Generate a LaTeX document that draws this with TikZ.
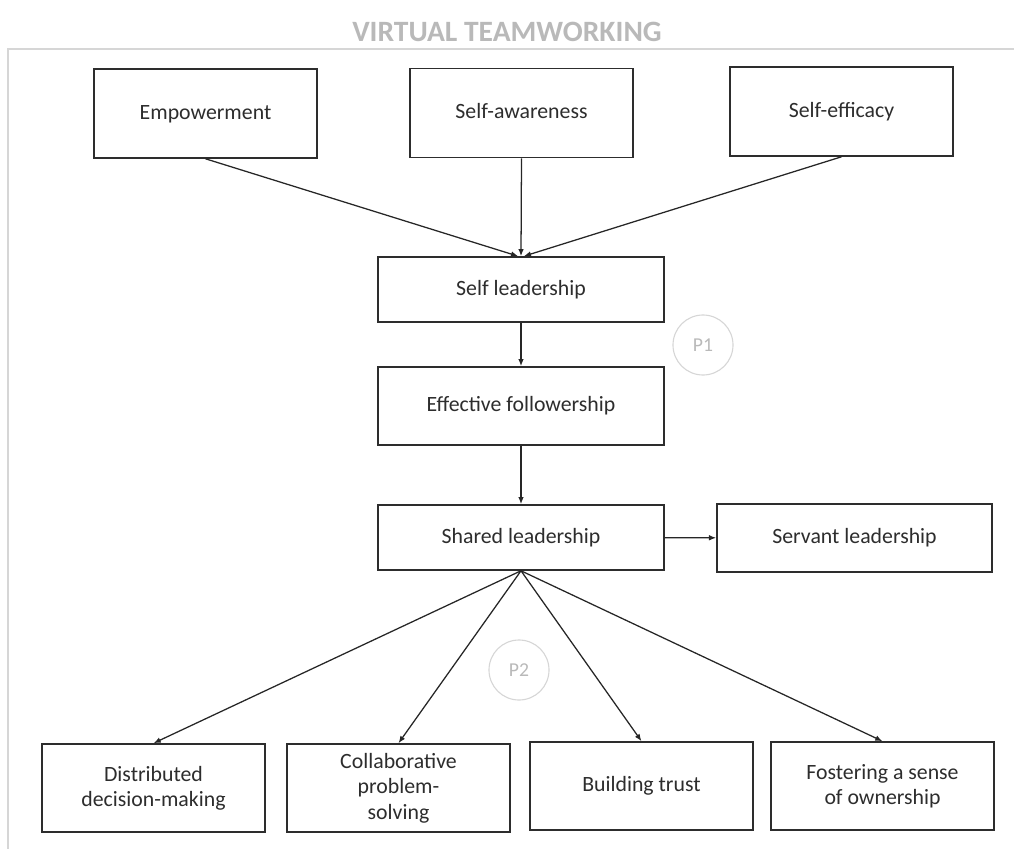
\documentclass[tikz,border=0pt]{standalone}
\usepackage{fontspec}
\setmainfont{Carlito}
\usetikzlibrary{arrows.meta}
\definecolor{framegray}{RGB}{214,214,214}
\definecolor{titlegray}{RGB}{185,185,185}
\definecolor{boxline}{RGB}{45,45,45}
\definecolor{textgray}{RGB}{45,45,45}
\begin{document}
\begin{tikzpicture}[x=0.025cm,y=-0.025cm,
  box/.style={draw=boxline,line width=1.1pt,fill=white,align=center,text=textgray,
    font=\fontsize{15.5}{18}\selectfont,inner sep=2pt},
  oneline/.style={text height=11pt,text depth=3pt},
  topbox/.style={box,oneline,minimum width=5.575cm,minimum height=2.225cm},
  midbox/.style={box,oneline,minimum width=7.15cm,minimum height=1.625cm},
  botbox/.style={box,minimum width=5.575cm,minimum height=2.2cm},
  prop/.style={circle,draw=framegray,line width=0.8pt,text=titlegray,
    minimum size=1.5cm,inner sep=0pt,font=\fontsize{14}{16}\selectfont},
  link/.style={draw=black!85,line width=0.9pt,-{Latex[length=1.8mm,width=1.4mm]}}]
 \useasboundingbox (0,0) rectangle (1014,849);
 % frame and title
 \draw[framegray,line width=2pt](1014,49)--(8,49)--(8,849);
 \node[text=titlegray,font=\fontsize{21}{25}\selectfont\bfseries] (title) at (507,32) {VIRTUAL TEAMWORKING};
 % top row
 \node[topbox] (empower) at (205.5,113.5) {Empowerment};
 \node[topbox] (selfaware) at (521.5,113) {Self-awareness};
 \node[topbox] (selfeff) at (841.5,111.5) {Self-efficacy};
 % middle column
 \node[midbox] (selflead) at (521,289.5) {Self leadership};
 \node[midbox,minimum height=1.95cm] (follow) at (521,406) {Effective followership};
 \node[midbox] (shared) at (521,537.5) {Shared leadership};
 \node[box,oneline,minimum width=6.875cm,minimum height=1.7cm] (servant) at (854.5,538) {Servant leadership};
 % bottom row
 \node[botbox] (distrib) at (153.5,788) {Distributed\\decision-making};
 \node[botbox] (collab) at (398.5,788) {Collaborative\\problem-\\solving};
 \node[botbox,oneline] (trust) at (641.5,786) {Building trust};
 \node[botbox] (owner) at (882.5,786) {Fostering a sense\\of ownership};
 % propositions
 \node[prop] (pone) at (703,345) {P1};
 \node[prop] (ptwo) at (519,670) {P2};
 % arrows
 \draw[link] (empower.south) -- ([xshift=-2pt]selflead.north);
 \draw[link] (selfaware.south) -- (selflead.north);
 \draw[link] (selfeff.south) -- ([xshift=2pt]selflead.north);
 \draw[link] (selflead) -- (follow);
 \draw[link] (follow) -- (shared);
 \draw[link] (shared) -- (servant);
 \draw[link] (shared.south) -- (distrib.north);
 \draw[link] (shared.south) -- (collab.north);
 \draw[link] (shared.south) -- (trust.north);
 \draw[link] (shared.south) -- (owner.north);
\end{tikzpicture}
\end{document}
